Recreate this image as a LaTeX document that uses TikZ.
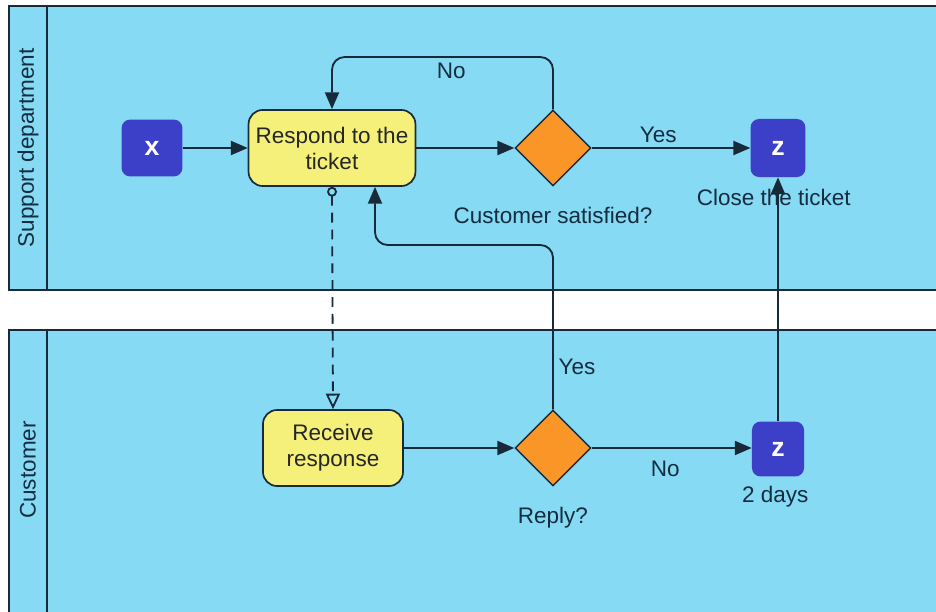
\documentclass[tikz,border=0pt]{standalone}
\usepackage{fontspec}
\setmainfont{Liberation Sans}
\usetikzlibrary{arrows.meta,positioning,shapes.geometric}

\definecolor{lanefill}{RGB}{134,218,243}
\definecolor{linecol}{RGB}{24,42,58}
\definecolor{taskfill}{RGB}{245,240,122}
\definecolor{gatefill}{RGB}{250,150,40}
\definecolor{eventfill}{RGB}{60,64,200}
\definecolor{textcol}{RGB}{20,45,65}

\begin{document}
\begin{tikzpicture}[
    x=0.025cm, y=-0.025cm,
    font=\fontsize{16}{18.5}\selectfont,
    lane/.style={draw=linecol, line width=1.3pt, fill=lanefill},
    task/.style={draw=linecol, line width=1.2pt, rounded corners=10pt, fill=taskfill, minimum height=1.9cm, align=center, text=black!85},
    gate/.style={diamond, draw=linecol, line width=1pt, fill=gatefill, minimum width=1.9cm, minimum height=1.9cm, inner sep=0pt},
    event/.style={rounded corners=6pt, fill=eventfill, text=white, font=\fontsize{19}{21}\selectfont\bfseries},
    lbl/.style={text=textcol},
    arr/.style={-{Triangle[length=12pt, width=10pt]}, draw=linecol, line width=1.3pt},
    msg/.style={{Circle[open, length=7pt]}-{Triangle[open, length=11pt, width=10pt]}, draw=linecol, line width=1.3pt, dash pattern=on 7pt off 5pt}
  ]
  \useasboundingbox (0,0) rectangle (936,612);
  \clip (0,0) rectangle (936,612);
  \fill[white] (0,0) rectangle (936,612);

  % pools
  \draw[lane] (9,6) rectangle (960,290);
  \draw[lane] (47,6) -- (47,290);
  \draw[lane] (9,330) rectangle (960,640);
  \draw[lane] (47,330) -- (47,640);
  \node[lbl, rotate=90] (suplane) at (28,148) {Support department};
  \node[lbl, rotate=90] (custlane) at (28,470) {Customer};

  % support department
  \node[event, minimum width=1.52cm, minimum height=1.42cm] (start) at (152,148) {x};
  \node[task, minimum width=4.17cm] (respond) at (332,148) {Respond to the\\ticket};
  \node[gate] (satisfied) at (553,148) {};
  \node[event, minimum width=1.37cm, minimum height=1.45cm] (close) at (778,148) {z};
  \node[lbl, below=11pt of satisfied] (satlbl) {Customer satisfied?};
  \node[lbl, below=5pt of close, xshift=-3pt] (closelbl) {Close the ticket};

  % customer
  \node[task, minimum width=3.5cm] (receive) at (333,448) {Receive\\response};
  \node[gate] (reply) at (553,448) {};
  \node[event, minimum width=1.3cm, minimum height=1.37cm] (wait) at (778,449) {z};
  \node[lbl, below=11pt of reply] (replylbl) {Reply?};
  \node[lbl, below=3pt of wait, xshift=-2pt] (waitlbl) {2 days};

  \coordinate (noloop) at (332,57);
  \coordinate (yesloop) at (375,245);

  \draw[arr] (start) -- (respond);
  \draw[arr] (respond) -- (satisfied);
  \draw[arr] (satisfied) -- node[lbl, above, pos=0.42] {Yes} (close);
  \draw[arr, rounded corners=9pt] (satisfied.north) |- node[lbl, below, pos=0.73] {No} (noloop) -- (respond.north);
  \draw[msg] (respond.south) -- (receive.north);
  \draw[arr] (receive) -- (reply);
  \draw[arr] (reply) -- node[lbl, below=5pt, pos=0.46] {No} (wait.west |- reply);
  \draw[arr, rounded corners=9pt] (reply.north) |- node[lbl, right, pos=0.13] {Yes} (yesloop) -- (yesloop |- respond.south);
  \draw[arr] (wait.north) -- (close.south);
\end{tikzpicture}
\end{document}
